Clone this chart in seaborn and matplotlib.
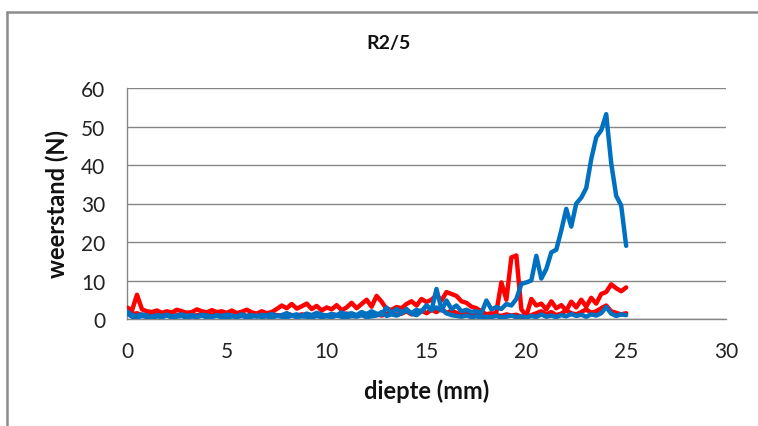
import numpy as np
import pandas as pd
import matplotlib
matplotlib.use("Agg")
import matplotlib.pyplot as plt
from matplotlib.lines import Line2D
import seaborn as sns

# depth in mm, sampled every 0.25 mm
diepte = [i * 0.25 for i in range(101)]

rood_1 = [
    3.0, 2.2, 6.3, 2.5, 2.0, 1.8, 2.2, 1.6, 2.0, 1.7, 2.4, 2.0, 1.6, 1.8, 2.5, 2.0, 1.7, 2.3, 1.8, 2.0, 1.6,
    2.2, 1.5, 1.9, 2.4, 1.7, 1.4, 2.0, 1.5, 1.8, 2.6, 3.5, 2.8, 3.9, 2.7, 3.3, 4.0, 2.6, 3.4, 2.2, 3.0,
    2.5, 3.6, 2.3, 3.0, 4.2, 2.8, 3.9, 5.0, 3.2, 6.0, 4.5, 2.6, 2.4, 3.1, 2.8, 3.9, 4.6, 3.5, 5.2, 4.4,
    5.0, 6.2, 4.8, 7.0, 6.5, 6.0, 4.6, 4.2, 3.2, 2.8, 2.0, 1.2, 1.0, 1.8, 9.5, 5.0, 16.0, 16.5, 2.5, 0.8,
    5.2, 3.5, 4.0, 2.5, 4.6, 2.8, 3.6, 2.2, 4.5, 3.0, 5.0, 3.2, 5.5, 4.0, 6.5, 7.0, 9.0, 8.0, 7.2, 8.2,
]

rood_2 = [
    2.0, 1.2, 1.5, 1.0, 0.8, 1.2, 0.9, 1.4, 1.0, 0.7, 1.1, 0.9, 1.3, 0.8, 1.0, 1.2, 0.8, 1.1, 0.9, 1.3, 1.0,
    0.8, 1.2, 1.0, 0.7, 1.3, 0.9, 1.1, 0.8, 1.2, 1.0, 0.9, 1.4, 1.0, 0.8, 1.2, 1.0, 0.9, 1.3, 1.1, 0.8,
    1.2, 1.0, 0.8, 1.4, 1.1, 0.9, 1.3, 1.0, 1.5, 1.2, 0.9, 1.3, 1.8, 1.1, 1.4, 2.0, 1.2, 1.6, 2.2, 1.5,
    2.4, 1.8, 2.8, 1.5, 2.2, 1.6, 1.2, 1.8, 1.0, 1.3, 0.9, 1.2, 1.5, 1.0, 0.8, 1.2, 0.9, 1.1, 0.6, 0.5,
    1.0, 1.5, 2.0, 1.2, 1.8, 1.0, 1.4, 2.2, 1.5, 1.2, 1.8, 2.5, 1.6, 2.0, 2.8, 3.5, 2.0, 1.6, 1.2, 1.5,
]

blauw_1 = [
    2.0, 1.0, 0.8, 1.2, 0.9, 0.6, 1.0, 0.8, 1.1, 0.7, 0.9, 1.2, 0.8, 1.0, 0.7, 1.1, 0.9, 0.6, 1.0, 0.8, 1.1,
    0.9, 0.7, 1.2, 0.8, 1.0, 0.6, 1.1, 0.9, 1.3, 0.8, 1.0, 1.5, 0.9, 1.2, 0.8, 1.4, 1.0, 1.6, 1.1, 0.9,
    1.3, 1.0, 1.7, 1.2, 1.5, 1.0, 1.8, 1.3, 2.0, 1.4, 1.1, 3.0, 1.5, 2.6, 1.8, 2.2, 1.5, 2.4, 1.9, 3.5,
    2.5, 3.0, 2.2, 4.8, 2.6, 3.5, 2.0, 2.4, 1.8, 2.0, 1.5, 4.8, 2.5, 3.1, 2.6, 3.9, 3.5, 5.2, 9.1, 9.5,
    10.0, 16.4, 10.5, 13.0, 17.3, 18.0, 23.0, 28.6, 24.0, 30.0, 31.5, 34.0, 41.5, 47.2, 49.0, 53.2, 40.5, 32.0, 29.5, 19.0,
]

blauw_2 = [
    1.5, 0.6, 0.4, 0.8, 0.5, 0.3, 0.7, 0.5, 0.9, 0.4, 0.6, 0.8, 0.3, 0.7, 0.5, 0.9, 0.4, 0.6, 0.8, 0.5, 0.3,
    0.7, 0.5, 0.8, 0.4, 0.6, 0.9, 0.5, 0.7, 0.3, 0.8, 0.6, 0.4, 0.9, 0.5, 0.7, 0.6, 0.4, 0.8, 0.5, 0.7,
    0.5, 0.9, 0.6, 0.4, 0.8, 0.6, 1.0, 0.5, 0.7, 0.9, 1.8, 0.8, 1.2, 0.9, 1.5, 2.6, 1.4, 1.0, 2.0, 3.5,
    2.2, 7.8, 2.6, 1.5, 1.0, 0.8, 0.6, 0.9, 0.5, 0.7, 0.4, 0.6, 0.5, 0.8, 0.4, 0.6, 0.9, 0.5, 0.7, 0.4,
    0.8, 0.5, 1.2, 0.6, 0.9, 0.5, 1.0, 0.7, 1.3, 0.8, 1.1, 0.6, 1.2, 0.9, 1.5, 3.1, 1.4, 0.8, 1.2, 1.0,
]

x_ticks = [0, 5, 10, 15, 20, 25, 30]
y_ticks = [0, 10, 20, 30, 40, 50, 60]

sns.set_style("white")
plt.rcParams["font.family"] = ["Lato", "DejaVu Sans"]

fig = plt.figure(figsize=(7.58, 4.27), dpi=100)
ax = fig.add_axes([127 / 758, 1 - 320 / 427, 599 / 758, 231 / 427])

GRID = "#868686"
series = [(rood_1, "#FF0000"), (rood_2, "#FF0000"), (blauw_2, "#0070C0"), (blauw_1, "#0070C0")]
for values, colour in series:
    df = pd.DataFrame({"diepte": diepte, "weerstand": values})
    sns.lineplot(data=df, x="diepte", y="weerstand", ax=ax, color=colour,
                 linewidth=3.2, solid_joinstyle="round", solid_capstyle="round", zorder=3)

ax.set_xlim(0, 30)
ax.set_ylim(0, 60)
ax.set_xticks(x_ticks)
ax.set_yticks(y_ticks)
ax.set_xticklabels([str(t) for t in x_ticks])
ax.set_yticklabels([str(t) for t in y_ticks])

ax.yaxis.grid(True, color=GRID, linewidth=1.0, zorder=0)
ax.xaxis.grid(False)
for side in ("top", "right"):
    ax.spines[side].set_visible(False)
for side in ("left", "bottom"):
    ax.spines[side].set_color(GRID)
    ax.spines[side].set_linewidth(1.0)

ax.tick_params(axis="both", which="major", direction="out", length=6.5, width=1.0,
               color=GRID, labelsize=15, labelcolor="#222222")
ax.tick_params(axis="x", pad=9)
ax.tick_params(axis="y", pad=9)

ax.set_xlabel("diepte (mm)", fontsize=17, fontweight="bold", labelpad=13, color="#111111")
ax.set_ylabel("weerstand (N)", fontsize=17, fontweight="bold", labelpad=9, color="#111111")

fig.text(388 / 758, 1 - 43 / 427, "R2/5", ha="center", va="center",
         fontsize=14, fontweight="bold", color="#111111")

# chart frame (left and top edges)
fig.add_artist(Line2D([7 / 758, 7 / 758], [0, 1 - 13 / 427], transform=fig.transFigure,
                      color="#8c8c8c", linewidth=1.8))
fig.add_artist(Line2D([7 / 758, 1], [1 - 13 / 427, 1 - 13 / 427], transform=fig.transFigure,
                      color="#8c8c8c", linewidth=1.8))

fig.savefig("out.png", dpi=100)
